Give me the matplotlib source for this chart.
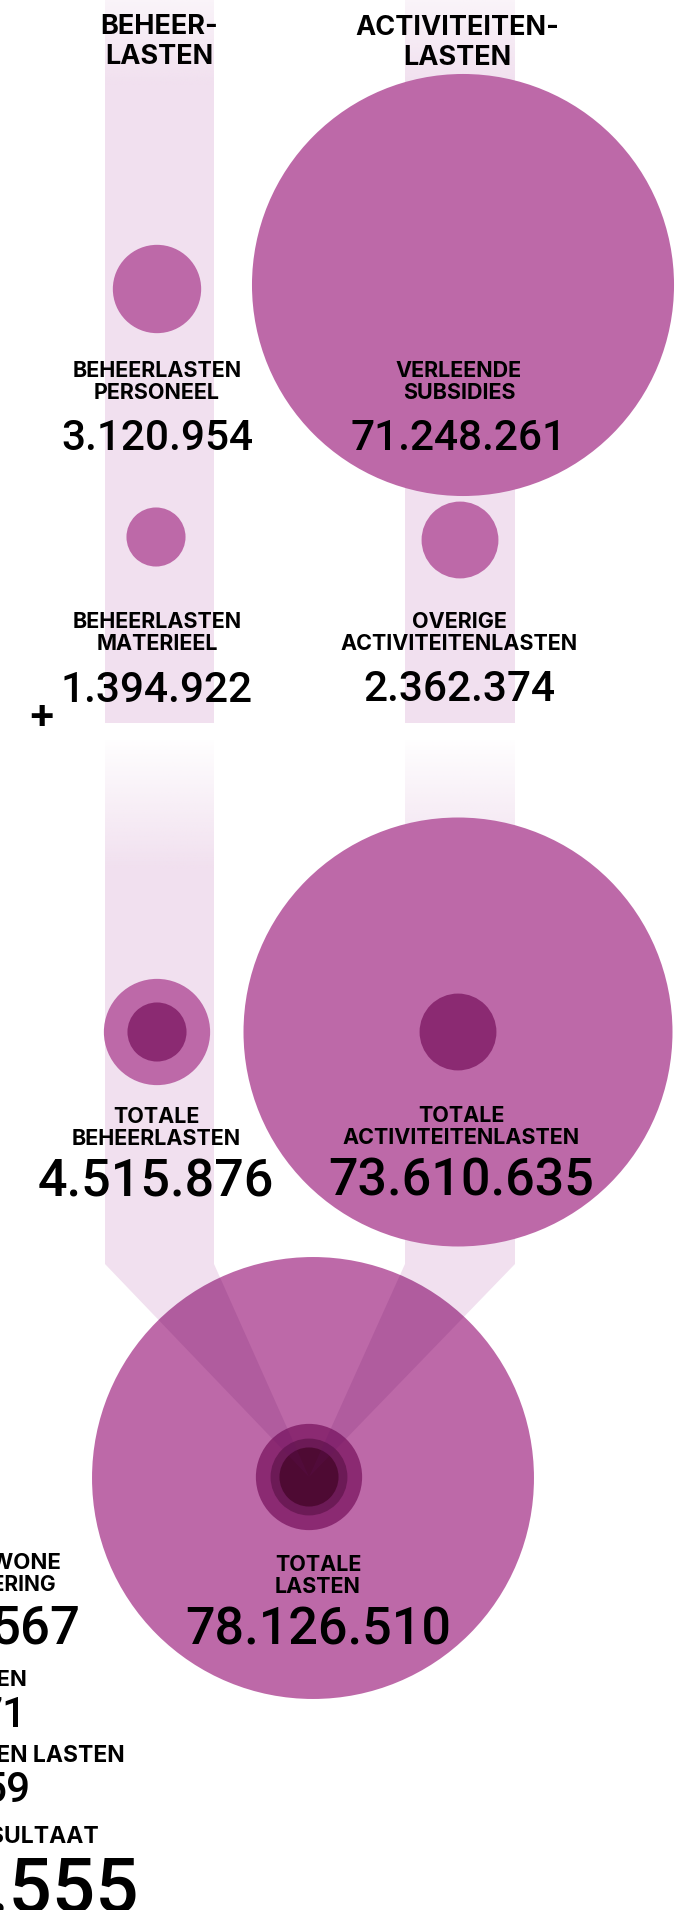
import matplotlib
matplotlib.use('Agg')
import matplotlib.pyplot as plt
from matplotlib.patches import Circle, Polygon, Rectangle
import numpy as np

# data
beheer_labels = ['BEHEERLASTEN\nPERSONEEL', 'BEHEERLASTEN\nMATERIEEL']
beheer_values = [3120954, 1394922]
activ_labels = ['VERLEENDE\nSUBSIDIES', 'OVERIGE\nACTIVITEITENLASTEN']
activ_values = [71248261, 2362374]
total_labels = ['TOTALE\nBEHEERLASTEN', 'TOTALE\nACTIVITEITENLASTEN']
total_values = [4515876, 73610635]
grand_label = 'TOTALE\nLASTEN'
grand_value = 78126510
headers = ['BEHEER-\nLASTEN', 'ACTIVITEITEN-\nLASTEN']
# column on the left, mostly outside the picture
side_labels = ['GEWONE\nBEDRIJFSVOERING', 'BATEN', 'BATEN EN LASTEN', 'RESULTAAT']
side_values = ['567', '71', '59', '.555']

CIRCLE = '#bd69a8'
BAND = '#f1e0ef'
DARK = ['#8b2a72', '#6c1a56', '#4e0a33']
FONT = ['Inter', 'DejaVu Sans']
NUMFONT = ['Roboto', 'DejaVu Sans']


def radius(v):
    return 25.0 * np.sqrt(v / 1e6)


def fmt(v):
    return f'{v:,}'.replace(',', '.')


fig = plt.figure(figsize=(6.83, 19.10), dpi=100)
ax = fig.add_axes([0, 0, 1, 1])
ax.set_axis_off()

band_x = [(105, 214), (405, 515)]
grand_c = (313, 1478)
apex = (309, 1477)


def gradient(x0, x1, y0, y1, a0):
    rgb = matplotlib.colors.to_rgb(BAND)
    n = 64
    arr = np.zeros((n, 1, 4))
    arr[:, 0, :3] = rgb
    arr[:, 0, 3] = np.linspace(a0, 1, n)
    ax.imshow(arr, extent=(x0, x1, y1, y0), origin='upper', aspect='auto',
              interpolation='bilinear', zorder=1)


# bands
for x0, x1 in band_x:
    gradient(x0, x1, 0, 85, 0.35)
    ax.add_patch(Rectangle((x0, 85), x1 - x0, 723 - 85, fc=BAND, ec='none', zorder=1))
    gradient(x0, x1, 740, 870, 0.03)
    ax.add_patch(Polygon([(x0, 869), (x1, 869), (x1, 1264), apex, (x0, 1264)],
                         fc=BAND, ec='none', zorder=1))

# row 1 and 2 circles
pos_beheer = [(157, 289), (156, 537)]
pos_activ = [(463, 285), (460, 540)]
for (cx, cy), v in zip(pos_beheer + pos_activ, beheer_values + activ_values):
    ax.add_patch(Circle((cx, cy), radius(v), fc=CIRCLE, ec='none', zorder=2))

# totals
pos_total = [(157, 1032), (458, 1032)]
inner_vals = [beheer_values[1], activ_values[1]]
for (cx, cy), v, iv in zip(pos_total, total_values, inner_vals):
    ax.add_patch(Circle((cx, cy), radius(v), fc=CIRCLE, ec='none', zorder=2))
    ax.add_patch(Circle((cx, cy), radius(iv), fc=DARK[0], ec='none', zorder=3))

# grand total
big = Circle(grand_c, radius(grand_value), fc=CIRCLE, ec='none', zorder=2)
ax.add_patch(big)
for v, col in zip([total_values[0], activ_values[1], beheer_values[1]], DARK):
    ax.add_patch(Circle(apex, radius(v), fc=col, ec='none', zorder=3))
for x0, x1 in band_x:
    w = Polygon([(x0, 1264), (x1, 1264), apex], fc=(0.40, 0.07, 0.40),
                alpha=0.15, ec='none', zorder=4)
    ax.add_patch(w)
    w.set_clip_path(big)


def two_lines(x, y_last, text, size, weight, gap):
    lines = text.split('\n')
    for i, ln in enumerate(lines):
        y = y_last - gap * (len(lines) - 1 - i)
        ax.text(x, y, ln, ha='center', va='baseline', fontsize=size,
                fontweight=weight, family=FONT, color='black', zorder=5)


# headers
two_lines(159, 64, headers[0], 19.5, 'bold', 30)
two_lines(457, 65, headers[1], 19.5, 'bold', 30)

# labels + values
lab_size, val_size, tot_size = 15.5, 30.5, 37.5
items = [
    (157, 399, 450, beheer_labels[0], beheer_values[0], val_size),
    (459, 399, 450, activ_labels[0], activ_values[0], val_size),
    (157, 650, 702, beheer_labels[1], beheer_values[1], val_size),
    (459, 650, 701, activ_labels[1], activ_values[1], val_size),
    (156, 1145, 1196, total_labels[0], total_values[0], tot_size),
    (461, 1144, 1195, total_labels[1], total_values[1], tot_size),
    (318, 1593, 1644, grand_label, grand_value, tot_size),
]
for x, yl, yv, lab, val, vs in items:
    two_lines(x, yl, lab, lab_size, 'bold', 22)
    ax.text(x, yv, fmt(val), ha='center', va='baseline', fontsize=vs,
            fontweight='medium', family=NUMFONT, color='black', zorder=5)

ax.text(41, 717, '+', ha='center', va='center', fontsize=30, fontweight='bold',
        family=FONT, color='black', zorder=5)

# left column, cut by the picture edge
side_kw = dict(ha='right', va='baseline', fontweight='bold', family=FONT)
ax.text(61, 1569, side_labels[0].split('\n')[0], fontsize=16, **side_kw)
ax.text(56, 1591, side_labels[0].split('\n')[1], fontsize=15, **side_kw)
ax.text(27, 1686, side_labels[1], fontsize=16, **side_kw)
ax.text(125, 1762, side_labels[2], fontsize=16.5, **side_kw)
ax.text(99, 1843, side_labels[3], fontsize=16.5, **side_kw)
val_kw = dict(ha='right', va='baseline', fontweight='medium', family=NUMFONT)
ax.text(81, 1643, side_values[0], fontsize=38, **val_kw)
ax.text(27, 1727, side_values[1], fontsize=30.5, **val_kw)
ax.text(30, 1802, side_values[2], fontsize=30.5, **val_kw)
ax.text(139, 1912, side_values[3], fontsize=55, **val_kw)

ax.set_xlim(0, 683)
ax.set_ylim(1910, 0)
fig.savefig('out.png', dpi=100)
